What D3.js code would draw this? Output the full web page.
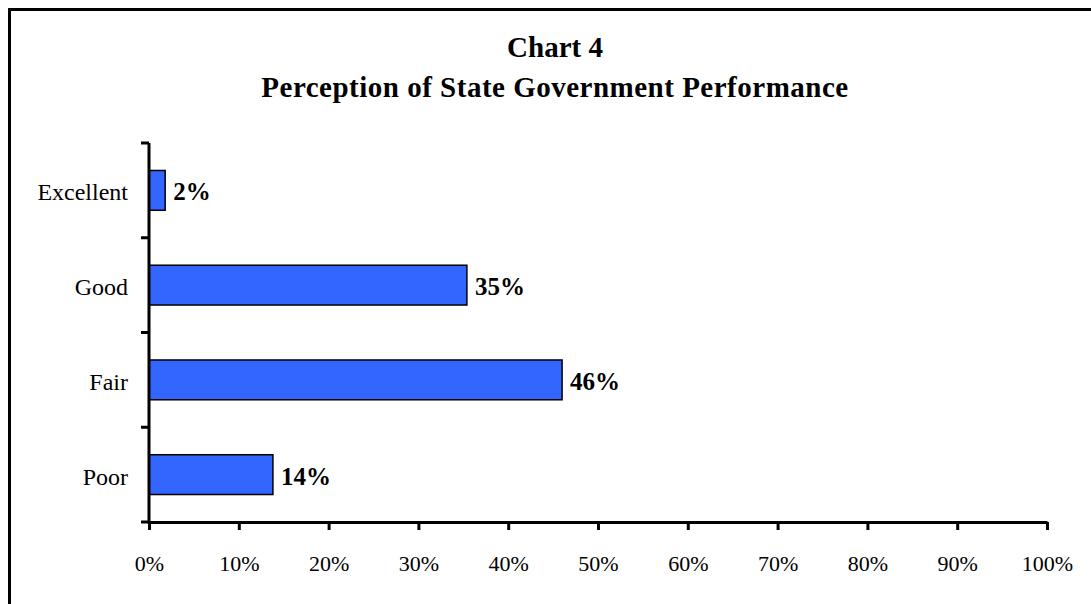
<!DOCTYPE html>
<html>
<head>
<meta charset="utf-8">
<script src="https://cdn.jsdelivr.net/npm/d3@7"></script>
<style>
  body { margin: 0; background: #fff; }
  svg text { font-family: "Liberation Serif", "Times New Roman", serif; }
</style>
</head>
<body>
<svg id="chart" width="1091" height="604"></svg>
<script>
// data
var categories = ["Excellent", "Good", "Fair", "Poor"];
var values = [1.8, 35.4, 46, 13.8];
var valueLabels = ["2%", "35%", "46%", "14%"];
var xTicks = [0, 10, 20, 30, 40, 50, 60, 70, 80, 90, 100];
var titleLines = ["Chart 4", "Perception of State Government Performance"];

var svg = d3.select("#chart");

// outer frame (runs off the right and bottom edge)
svg.append("rect")
    .attr("x", 9.5).attr("y", 9.5)
    .attr("width", 1100).attr("height", 620)
    .attr("fill", "none")
    .attr("stroke", "#000")
    .attr("stroke-width", 3);

var margin = {left: 149, top: 143, right: 1047, bottom: 522};

var x = d3.scaleLinear().domain([0, 100]).range([margin.left, margin.right]);
var y = d3.scaleBand().domain(categories).range([margin.top, margin.bottom])
    .paddingInner(0.58).paddingOuter(0.29);

// title
svg.selectAll(".title")
    .data(titleLines)
    .enter().append("text")
    .attr("class", "title")
    .attr("x", 555)
    .attr("y", function(d, i) { return 57 + i * 40; })
    .attr("text-anchor", "middle")
    .attr("font-size", "29px")
    .attr("font-weight", "bold")
    .attr("letter-spacing", function(d, i) { return i ? "0.5px" : "0"; })
    .text(function(d) { return d; });

// bars
svg.selectAll(".bar")
    .data(values)
    .enter().append("rect")
    .attr("class", "bar")
    .attr("x", x(0))
    .attr("y", function(d, i) { return y(categories[i]); })
    .attr("width", function(d) { return x(d) - x(0); })
    .attr("height", y.bandwidth())
    .attr("fill", "#3366FF")
    .attr("stroke", "#000")
    .attr("stroke-width", 1.5);

// value labels
svg.selectAll(".vlabel")
    .data(values)
    .enter().append("text")
    .attr("class", "vlabel")
    .attr("x", function(d) { return x(d) + 8; })
    .attr("y", function(d, i) { return y(categories[i]) + y.bandwidth() / 2 + 10; })
    .attr("font-size", "25px")
    .attr("font-weight", "bold")
    .text(function(d, i) { return valueLabels[i]; });

// x axis
var xAxis = svg.append("g")
    .attr("transform", "translate(0," + margin.bottom + ")")
    .call(d3.axisBottom(x).tickValues(xTicks).tickSize(8).tickSizeOuter(0)
        .tickFormat(function(d) { return d + "%"; }));
xAxis.select(".domain").attr("stroke-width", 3);
xAxis.selectAll(".tick line").attr("stroke-width", 3);
xAxis.selectAll(".tick text")
    .attr("y", 49)
    .attr("dy", 0)
    .attr("font-size", "22px")
    .attr("font-family", "Liberation Serif, serif")
    .attr("fill", "#000");

// y axis: ticks sit between the categories
var yAxis = svg.append("g");
yAxis.append("line")
    .attr("x1", margin.left).attr("x2", margin.left)
    .attr("y1", margin.top).attr("y2", margin.bottom + 1.5)
    .attr("stroke", "#000").attr("stroke-width", 3);
var bounds = d3.range(categories.length + 1).map(function(i) {
  return margin.top + i * (margin.bottom - margin.top) / categories.length;
});
yAxis.selectAll(".ytick")
    .data(bounds)
    .enter().append("line")
    .attr("class", "ytick")
    .attr("x1", margin.left - 8).attr("x2", margin.left)
    .attr("y1", function(d) { return d; }).attr("y2", function(d) { return d; })
    .attr("stroke", "#000").attr("stroke-width", 3);
yAxis.selectAll(".ylabel")
    .data(categories)
    .enter().append("text")
    .attr("class", "ylabel")
    .attr("x", 128)
    .attr("y", function(d) { return y(d) + y.bandwidth() / 2 + 10; })
    .attr("text-anchor", "end")
    .attr("font-size", "24px")
    .text(function(d) { return d; });
</script>
</body>
</html>
